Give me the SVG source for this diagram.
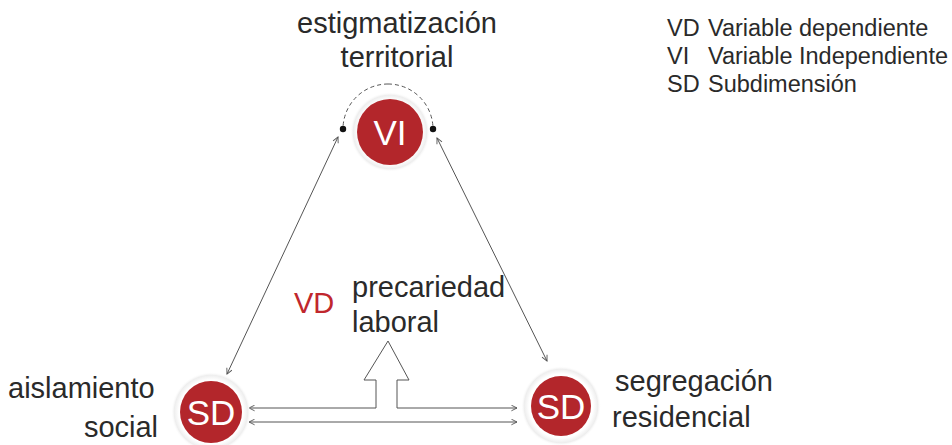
<svg xmlns="http://www.w3.org/2000/svg" width="952" height="445" viewBox="0 0 952 445">
<style>
.t{font-family:"Liberation Sans",Arial,sans-serif;fill:#2a2a2a}
.lbl{font-size:29px}
.leg{font-size:23.5px}
.ci{font-family:"Liberation Sans",Arial,sans-serif;fill:#fff;font-size:35px;text-anchor:middle}
.ln{stroke:#555;stroke-width:1;fill:none}
</style>
<defs>
<radialGradient id="halo" cx="0.5" cy="0.5" r="0.5">
<stop offset="0.8" stop-color="#fff"/>
<stop offset="0.92" stop-color="#eeeeee"/>
<stop offset="1" stop-color="#fff" stop-opacity="0"/>
</radialGradient>
<marker id="ah" viewBox="0 0 10 10" refX="9" refY="5" markerWidth="7" markerHeight="7" markerUnits="userSpaceOnUse" orient="auto-start-reverse">
<path d="M1,1 L9,5 L1,9" fill="none" stroke="#555" stroke-width="1.3"/>
</marker>
</defs>
<rect width="952" height="445" fill="#fff"/>
<g id="legend">
<text class="t leg" x="667" y="36">VD</text>
<text class="t leg" x="708" y="36">Variable dependiente</text>
<text class="t leg" x="667" y="64">VI</text>
<text class="t leg" x="708" y="64">Variable Independiente</text>
<text class="t leg" x="667" y="92">SD</text>
<text class="t leg" x="708" y="92">Subdimensión</text>
</g>
<g id="connectors">
<path class="ln" d="M388,84 A45,45 0 0 0 343,129 M388,84 A45,45 0 0 1 433,129" stroke-dasharray="4,3" stroke="#333" stroke-width="1.5"/>
<circle cx="343" cy="129" r="3.2" fill="#111"/>
<circle cx="433" cy="129" r="3.2" fill="#111"/>
<line class="ln" x1="338" y1="137" x2="227" y2="374" marker-start="url(#ah)" marker-end="url(#ah)"/>
<line class="ln" x1="437" y1="138" x2="547" y2="361" marker-start="url(#ah)" marker-end="url(#ah)"/>
<path class="ln" d="M249,408 H376 V380 H364 L388,341 L409,380 H397 V408 H517" marker-start="url(#ah)" marker-end="url(#ah)"/>
<line class="ln" x1="249" y1="422" x2="517" y2="422" marker-start="url(#ah)" marker-end="url(#ah)"/>
</g>
<g id="node-vi">
<circle cx="390" cy="132" r="40" fill="url(#halo)"/>
<circle cx="390" cy="132" r="33" fill="#b3262b"/>
<text class="ci" x="390" y="145">VI</text>
<text class="t lbl" x="397" y="33" text-anchor="middle">estigmatización</text>
<text class="t lbl" x="397" y="67" text-anchor="middle">territorial</text>
</g>
<g id="node-sd-left">
<circle cx="211" cy="412" r="40" fill="url(#halo)"/>
<circle cx="211" cy="412" r="31" fill="#b3262b"/>
<text class="ci" x="211" y="425">SD</text>
<text class="t lbl" x="8" y="398">aislamiento</text>
<text class="t lbl" x="121" y="437" text-anchor="middle">social</text>
</g>
<g id="node-sd-right">
<circle cx="561" cy="406" r="40" fill="url(#halo)"/>
<circle cx="561" cy="406" r="30" fill="#b3262b"/>
<text class="ci" x="561" y="419">SD</text>
<text class="t lbl" x="615" y="391">segregación</text>
<text class="t lbl" x="612" y="427">residencial</text>
</g>
<g id="node-vd">
<text class="lbl" x="294" y="313" font-family="Liberation Sans,Arial,sans-serif" fill="#c0272d">VD</text>
<text class="t lbl" x="352" y="297">precariedad</text>
<text class="t lbl" x="352" y="332">laboral</text>
</g>
</svg>
